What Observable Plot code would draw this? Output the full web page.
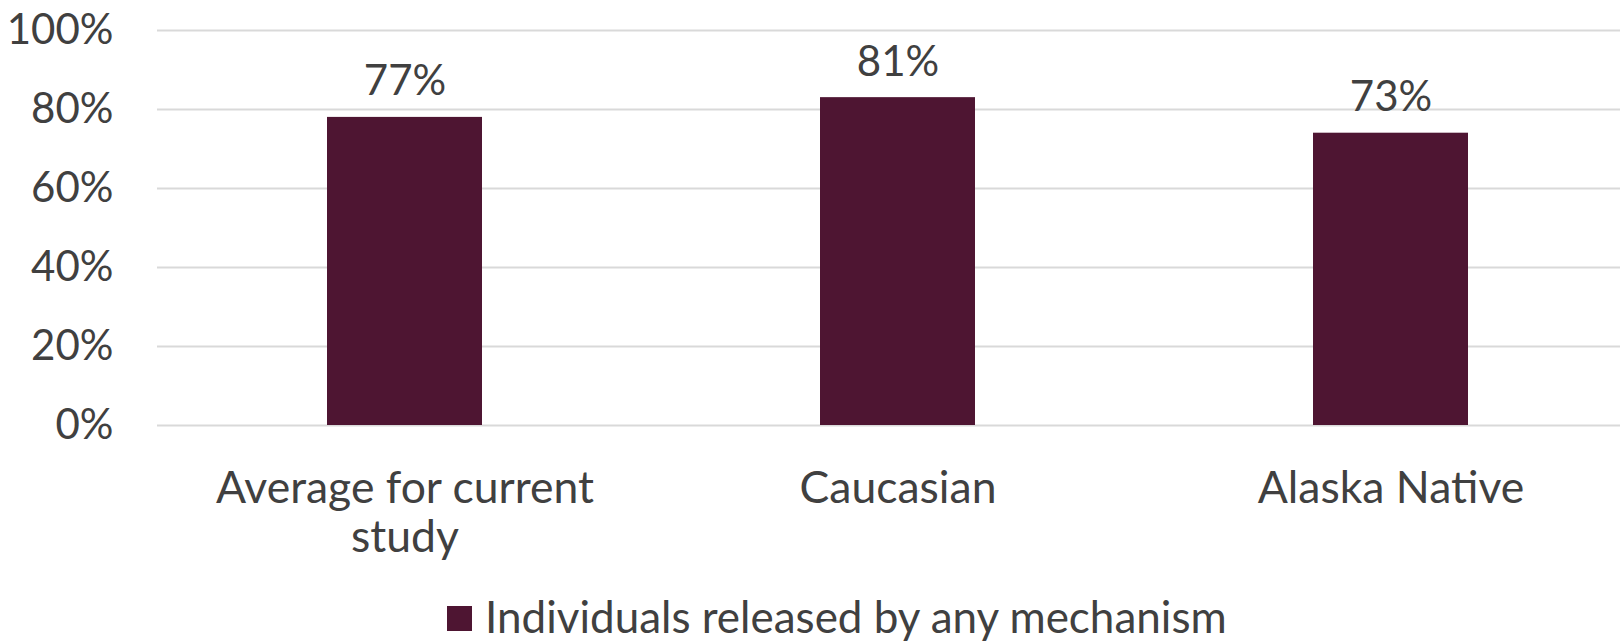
<!DOCTYPE html>
<html>
<head>
<meta charset="utf-8">
<script src="https://cdn.jsdelivr.net/npm/d3@7"></script>
<script src="https://cdn.jsdelivr.net/npm/@observablehq/plot@0.6"></script>
<style>
  html, body { margin: 0; padding: 0; background: #fff; }
  body { width: 1620px; height: 644px; overflow: hidden; font-family: Lato, "Open Sans", sans-serif; color: #404040; }
  #legend { position: relative; height: 79px; }
  #legend .sw { position: absolute; left: 447px; top: 41px; width: 25px; height: 25px; background: #4E1532; }
  #legend .lb { position: absolute; left: 485px; top: 29px; font-size: 44px; line-height: 1; color: #404040; white-space: nowrap; }
</style>
</head>
<body>
<div id="chart"></div>
<div id="legend"><div class="sw"></div><div class="lb" id="legendText"></div></div>
<script>
const categories = ["Average for current\nstudy", "Caucasian", "Alaska Native"];
const values = [78, 83, 74];
const valueLabels = ["77%", "81%", "73%"];
const yTicks = [0, 20, 40, 60, 80, 100];
const seriesName = "Individuals released by any mechanism";

const data = categories.map((c, i) => ({category: c, value: values[i], label: valueLabels[i]}));

const barColor = "#4E1532";
const textColor = "#404040";

const chart = Plot.plot({
  width: 1620,
  height: 565,
  marginTop: 30,
  marginLeft: 157,
  marginRight: 0,
  marginBottom: 140,
  style: {fontFamily: "Lato, 'Open Sans', sans-serif", color: textColor, background: "#fff"},
  x: {domain: categories, range: [157.5, 1636.5], paddingInner: 0.686, paddingOuter: 0.343, label: null},
  y: {domain: [0, 100], label: null},
  marks: [
    Plot.ruleY(yTicks, {stroke: "#d9d9d9", strokeWidth: 2}),
    Plot.barY(data, {x: "category", y: "value", fill: barColor}),
    Plot.text(data, {x: "category", y: "value", text: "label", lineAnchor: "bottom", dy: -22, fontSize: 42, fill: textColor}),
    Plot.axisY({ticks: yTicks, tickSize: 0, tickPadding: 44, tickFormat: d => d + "%", fontSize: 42, fill: textColor}),
    Plot.axisX({tickSize: 0, tickPadding: 43, fontSize: 44.5, fill: textColor, lineHeight: 1.1})
  ]
});
document.getElementById("chart").appendChild(chart);
document.getElementById("legendText").textContent = seriesName;
</script>
</body>
</html>
